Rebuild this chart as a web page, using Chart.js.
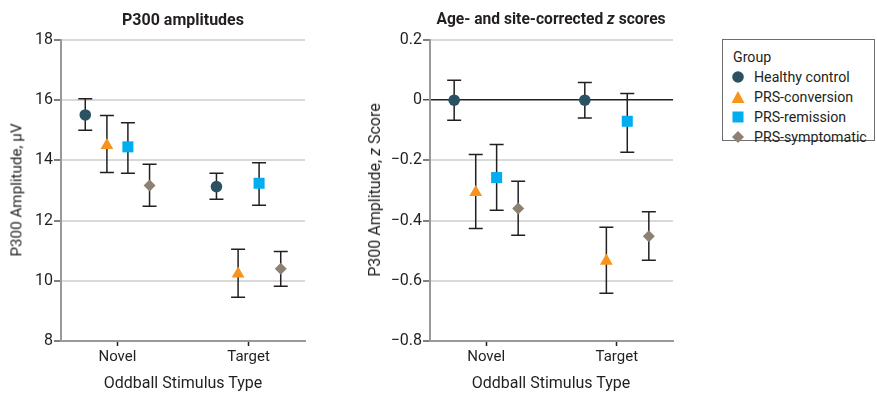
<!DOCTYPE html>
<html><head><meta charset="utf-8">
<script src="https://cdn.jsdelivr.net/npm/chart.js@4"></script>
<style>
body{margin:0;width:877px;height:394px;position:relative;background:#fff;font-family:Roboto,sans-serif;color:#231f20;overflow:hidden}
canvas{position:absolute;top:0}
.t{position:absolute;white-space:nowrap;transform:translate(-50%,-50%);line-height:1}
.h{font-weight:bold;font-size:16px}
.a{font-size:16px}
.r{transform:translate(-50%,-50%) rotate(-90deg)}
#legend{position:absolute;left:722px;top:39px;width:151px;height:100px;border:1.5px solid #6d6d6d;font-size:14.2px}
#legend .row{position:absolute;left:31px;height:20px;line-height:20px;white-space:nowrap}
#legend svg{position:absolute;left:-23px;top:3px}
</style></head>
<body>
<canvas id="c1" width="340" height="394" style="left:0"></canvas>
<canvas id="c2" width="360" height="394" style="left:340px"></canvas>

<div class="t h" style="left:183px;top:20px">P300 amplitudes</div>
<div class="t h" style="left:551px;top:20px;font-size:15.6px">Age- and site-corrected <i>z</i> scores</div>
<div class="t a r" style="left:17px;top:190px;font-size:15.2px">P300 Amplitude, μV</div>
<div class="t a r" style="left:375px;top:190px">P300 Amplitude, <i>z</i> Score</div>
<div class="t a" style="left:183px;top:383px">Oddball Stimulus Type</div>
<div class="t a" style="left:551px;top:383px">Oddball Stimulus Type</div>

<div id="legend">
  <div class="row" style="left:10px;top:7px">Group</div>
  <div class="row" style="top:27px"><svg width="14" height="14"><circle cx="7" cy="7" r="5.8" fill="#2b5263"/></svg>Healthy control</div>
  <div class="row" style="top:47px"><svg width="14" height="14"><polygon points="7,1 13.5,13 0.5,13" fill="#f7941d"/></svg>PRS-conversion</div>
  <div class="row" style="top:67px"><svg width="14" height="14"><rect x="1.5" y="1.5" width="11" height="11" fill="#00aeef"/></svg>PRS-remission</div>
  <div class="row" style="top:87px"><svg width="14" height="14"><polygon points="7,1 13,7 7,13 1,7" fill="#8c8173"/></svg>PRS-symptomatic</div>
</div>

<script>
// ---- data ----
const categories = ['Novel', 'Target'];
const groups = ['Healthy control', 'PRS-conversion', 'PRS-remission', 'PRS-symptomatic'];

// P300 amplitudes (µV): means per category, and [lower, upper] error bars
const ampHealthy = [15.51, 13.13];
const ampHealthyErr = [[15.00, 16.05], [12.71, 13.57]];
const ampConversion = [14.50, 10.23];
const ampConversionErr = [[13.60, 15.49], [9.45, 11.05]];
const ampRemission = [14.45, 13.24];
const ampRemissionErr = [[13.57, 15.25], [12.51, 13.92]];
const ampSymptomatic = [13.17, 10.40];
const ampSymptomaticErr = [[12.48, 13.87], [9.82, 10.97]];

// Age- and site-corrected z scores
const zHealthy = [0, 0];
const zHealthyErr = [[-0.067, 0.066], [-0.059, 0.059]];
const zConversion = [-0.306, -0.534];
const zConversionErr = [[-0.426, -0.180], [-0.641, -0.422]];
const zRemission = [-0.257, -0.070];
const zRemissionErr = [[-0.366, -0.147], [-0.173, 0.022]];
const zSymptomatic = [-0.360, -0.452];
const zSymptomaticErr = [[-0.449, -0.269], [-0.532, -0.371]];

const ampTicks = {min: 8, max: 18, step: 2};
const zTicks = {min: -0.8, max: 0.2, step: 0.2};

// ---- styles ----
const colors = ['#2b5263', '#f7941d', '#00aeef', '#8c8173'];
const shapes = ['circle', 'triangle', 'rect', 'rectRot'];
const radii = [5.8, 7.4, 7.8, 6];
const dodge = [-0.245, -0.08, 0.08, 0.245];
const ink = '#231f20';
const fontFamily = 'Roboto, sans-serif';

const errorBars = {
  id: 'errorBars',
  beforeDatasetsDraw(chart) {
    const ctx = chart.ctx, xs = chart.scales.x, ys = chart.scales.y;
    ctx.save();
    ctx.strokeStyle = ink;
    ctx.lineWidth = 1.5;
    chart.data.datasets.forEach(ds => {
      ds.data.forEach((p, i) => {
        const [lo, hi] = ds.errors[i];
        const x = xs.getPixelForValue(p.x);
        const y1 = ys.getPixelForValue(lo), y2 = ys.getPixelForValue(hi);
        ctx.beginPath();
        ctx.moveTo(x, y1); ctx.lineTo(x, y2);
        ctx.moveTo(x - 7, y1); ctx.lineTo(x + 7, y1);
        ctx.moveTo(x - 7, y2); ctx.lineTo(x + 7, y2);
        ctx.stroke();
      });
    });
    ctx.restore();
  }
};

function buildDatasets(means, errs) {
  return means.map((m, g) => ({
    label: groups[g],
    data: m.map((v, i) => ({x: i + 1 + dodge[g], y: v})),
    errors: errs[g],
    pointStyle: shapes[g],
    pointRadius: radii[g],
    pointBackgroundColor: colors[g],
    pointBorderWidth: 0,
    pointBorderColor: colors[g],
    showLine: false
  }));
}

function makeChart(id, datasets, t, yWidth, padRight, yFmt, zeroLine) {
  new Chart(document.getElementById(id), {
    type: 'scatter',
    data: {datasets},
    options: {
      responsive: false, animation: false, devicePixelRatio: 1,
      layout: {padding: {top: 40, right: padRight, bottom: 0, left: 0}},
      plugins: {legend: {display: false}, tooltip: {enabled: false}, title: {display: false}},
      scales: {
        x: {
          type: 'linear', min: 0.57, max: 2.43,
          afterBuildTicks(s) { s.ticks = categories.map((c, i) => ({value: i + 1})); },
          ticks: {callback: v => categories[Math.round(v) - 1], font: {family: fontFamily, size: 15}, color: ink, padding: 2, autoSkip: false, maxRotation: 0},
          grid: {display: true, drawOnChartArea: false, drawTicks: true, tickLength: 5, tickColor: ink, tickWidth: 1.5},
          border: {display: true, color: '#999', width: 2},
          afterFit(s) { s.height = 53; }
        },
        y: {
          min: t.min, max: t.max,
          ticks: {stepSize: t.step, callback: yFmt, font: {family: fontFamily, size: 16}, color: ink, padding: 1},
          grid: {
            color: c => (zeroLine && c.tick && Math.abs(c.tick.value) < 1e-9) ? ink : '#d9d9d9',
            lineWidth: c => (zeroLine && c.tick && Math.abs(c.tick.value) < 1e-9) ? 1.5 : 2,
            tickColor: '#555', tickLength: 7, tickWidth: 1.5
          },
          border: {display: true, color: '#999', width: 2},
          afterFit(s) { s.width = yWidth; }
        }
      }
    },
    plugins: [errorBars]
  });
}

makeChart('c1',
  buildDatasets([ampHealthy, ampConversion, ampRemission, ampSymptomatic],
                [ampHealthyErr, ampConversionErr, ampRemissionErr, ampSymptomaticErr]),
  ampTicks, 61, 35, v => String(v), false);

makeChart('c2',
  buildDatasets([zHealthy, zConversion, zRemission, zSymptomatic],
                [zHealthyErr, zConversionErr, zRemissionErr, zSymptomaticErr]),
  zTicks, 90, 27, v => Math.abs(v) < 1e-9 ? '0' : v.toFixed(1).replace('-', '\u2212'), true);
</script>
</body></html>
